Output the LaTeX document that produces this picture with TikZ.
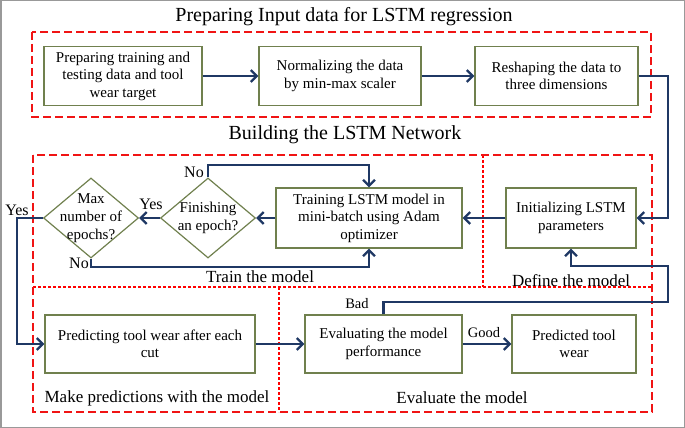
\documentclass[tikz,border=0pt]{standalone}
\usepackage{fontspec}
\setmainfont{Liberation Serif}
\usetikzlibrary{arrows.meta,shapes.geometric}
\definecolor{navy}{RGB}{31,56,100}
\definecolor{olive}{RGB}{112,128,78}
\definecolor{dred}{RGB}{240,20,20}
\tikzset{
  box/.style={draw=olive,line width=1.2pt,fill=white,align=center,inner sep=0pt,
    font=\fontsize{15}{17.5}\selectfont},
  dia/.style={draw=olive,line width=1.2pt,diamond,inner sep=0pt,minimum width=95pt,minimum height=80pt},
  diatext/.style={align=center,font=\fontsize{15}{18}\selectfont},
  arr/.style={draw=navy,line width=2.3pt,-{Straight Barb[length=6pt,width=12pt]}},
  conn/.style={draw=navy,line width=2.3pt},
  bigdash/.style={draw=dred,line width=2.6pt,dash pattern=on 8pt off 4pt},
  thindash/.style={draw=red,line width=1.2pt,dash pattern=on 3pt off 2pt},
  ttl/.style={font=\fontsize{20}{24}\selectfont},
  sect/.style={font=\fontsize{17}{20}\selectfont},
  lbl/.style={font=\fontsize{16}{19}\selectfont,inner sep=0pt},
  slbl/.style={font=\fontsize{14.5}{17}\selectfont,inner sep=0pt}
}
\begin{document}
\begin{tikzpicture}[x=1pt,y=-1pt]
\useasboundingbox (0,0) rectangle (685,428);
\draw[gray!80,line width=1.5pt] (0.75,0.75) rectangle (684.25,427.25);

% titles
\node[ttl] (t1) at (344,17) {Preparing Input data for LSTM regression};
\node[ttl] (t2) at (345,135) {Building the LSTM Network};

% red dashed frames
\draw[bigdash] (32,32) rectangle (651,117);
\draw[thindash] (483,155) -- (483,287);
\draw[thindash] (33,287) -- (652,287);
\draw[thindash] (279,287) -- (279,412);
\draw[bigdash] (33,155) rectangle (652,412);

% section labels
\node[sect] (s1) at (260,277) {Train the model};
\node[sect] (s2) at (571,281) {Define the model};
\node[sect] (s3) at (157,398) {Make predictions with the model};
\node[sect] (s4) at (462,398) {Evaluate the model};

% top row
\node[box,minimum width=158pt,minimum height=59pt] (A) at (123,76) {Preparing training and\\testing data and tool\\wear target};
\node[box,minimum width=162pt,minimum height=59pt] (B) at (340,76) {Normalizing the data\\by min-max scaler};
\node[box,minimum width=163pt,minimum height=59pt] (C) at (556.5,76) {Reshaping the data to\\three dimensions};

% middle row
\node[box,minimum width=186pt,minimum height=60pt] (train) at (369,218) {Training LSTM model in\\mini-batch using Adam\\optimizer};
\node[box,minimum width=130pt,minimum height=60pt] (init) at (571,218) {Initializing LSTM\\parameters};
\node[dia] (fin) at (208,218) {};
\node[diatext] at (fin) {Finishing\\an epoch?};
\node[dia] (max) at (91,218) {};
\node[diatext] at (max) {Max\\number of\\epochs?};

% bottom row
\node[box,minimum width=210pt,minimum height=58pt] (pred) at (150,344) {Predicting tool wear after each\\cut};
\node[box,minimum width=157pt,minimum height=58pt] (eval) at (383.5,344) {Evaluating the model\\performance};
\node[box,minimum width=124pt,minimum height=58pt] (ptw) at (574,344) {Predicted tool\\wear};

% coordinates
\coordinate (r1) at (668,76);
\coordinate (no1) at (208,165);
\coordinate (no1b) at (369,165);
\coordinate (no2) at (91,267);
\coordinate (no2b) at (369,267);
\coordinate (y1) at (17,218);
\coordinate (b1) at (383.5,302);
\coordinate (b2) at (668,302);
\coordinate (b3) at (668,266);
\coordinate (b4) at (571,266);

% connectors
\draw[arr] (A.east) -- (B.west);
\draw[arr] (B.east) -- (C.west);
\draw[arr] (C.east) -- (r1) |- (init.east);
\draw[arr] (init.west) -- (train.east);
\draw[arr] (train.west) -- (fin.east);
\draw[arr] (fin.west) -- (max.east);
\draw[arr] (fin.north) -- (no1) -- (no1b) -- (train.north);
\draw[arr] (max.south) -- (no2) -- (no2b) -- (train.south);
\draw[arr] (max.west) -- (y1) |- (pred.west);
\draw[arr] (pred.east) -- (eval.west);
\draw[arr] (eval.east) -- (ptw.west);
\draw[arr] (eval.north) -- (b1) -- (b2) -- (b3) -- (b4) -- (init.south);

% connector labels
\node[lbl] (lyes1) at (151,204) {Yes};
\node[lbl] (lno1) at (194,172) {No};
\node[lbl] (lno2) at (79,263) {No};
\node[lbl] (lyes2) at (17,210) {Yes};
\node[slbl] (lbad) at (357,304) {Bad};
\node[slbl] (lgood) at (484,333) {Good};
\end{tikzpicture}
\end{document}
